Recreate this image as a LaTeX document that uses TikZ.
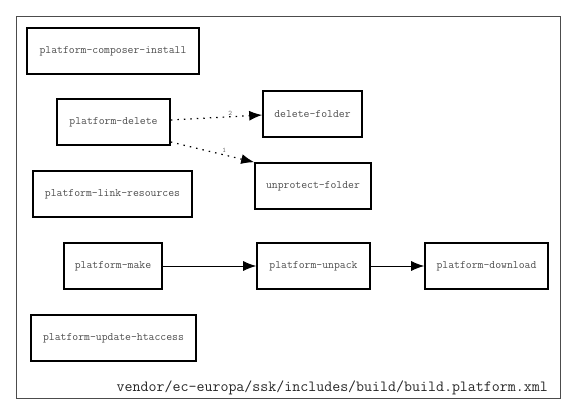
\documentclass[tikz,border=0pt]{standalone}
\usetikzlibrary{arrows.meta,positioning}

\begin{document}
\begin{tikzpicture}[
  x=1pt,y=-1pt,
  target/.style={draw,line width=1.6pt,minimum height=46pt,inner xsep=9pt,font=\ttfamily\fontsize{11.4}{12}\selectfont,text=black!70},
  call/.style={-{Latex[length=13pt,width=10pt]},line width=0.9pt},
  dep/.style={call,line width=1.2pt,dash pattern=on 1.5pt off 5pt},
  order/.style={font=\ttfamily\fontsize{7}{7}\selectfont,text=black!60,inner sep=1pt}
]
\useasboundingbox (0,0) rectangle (576,416);
\draw[black!70,line width=0.8pt] (16,16) rectangle (560,398);
\node[target,minimum width=172pt] (composer) at (113,51) {platform-composer-install};
\node[target,minimum width=113pt] (delete) at (113.5,122) {platform-delete};
\node[target,minimum width=99pt] (delfolder) at (312.5,114) {delete-folder};
\node[target,minimum width=116pt] (unprotect) at (313,186) {unprotect-folder};
\node[target,minimum width=159pt] (link) at (112.5,194) {platform-link-resources};
\node[target,minimum width=98pt] (make) at (113,266) {platform-make};
\node[target,minimum width=113pt] (unpack) at (313.5,266) {platform-unpack};
\node[target,minimum width=123pt] (download) at (486.5,266) {platform-download};
\node[target,minimum width=165pt] (htaccess) at (113.5,338) {platform-update-htaccess};
\draw[dep] (delete.east |- 0,120) -- node[order,above,pos=0.65] {2} (delfolder.west |- 0,115);
\draw[dep] (delete.east |- 0,142) -- node[order,above right,pos=0.6] {1} (unprotect.north west);
\draw[call] (make) -- (unpack);
\draw[call] (unpack) -- (download);
\node[anchor=base east,font=\ttfamily\fontsize{15.5}{16}\selectfont,text=black!85,inner sep=0pt] (file) at (548,391) {vendor/ec-europa/ssk/includes/build/build.platform.xml};
\end{tikzpicture}
\end{document}
